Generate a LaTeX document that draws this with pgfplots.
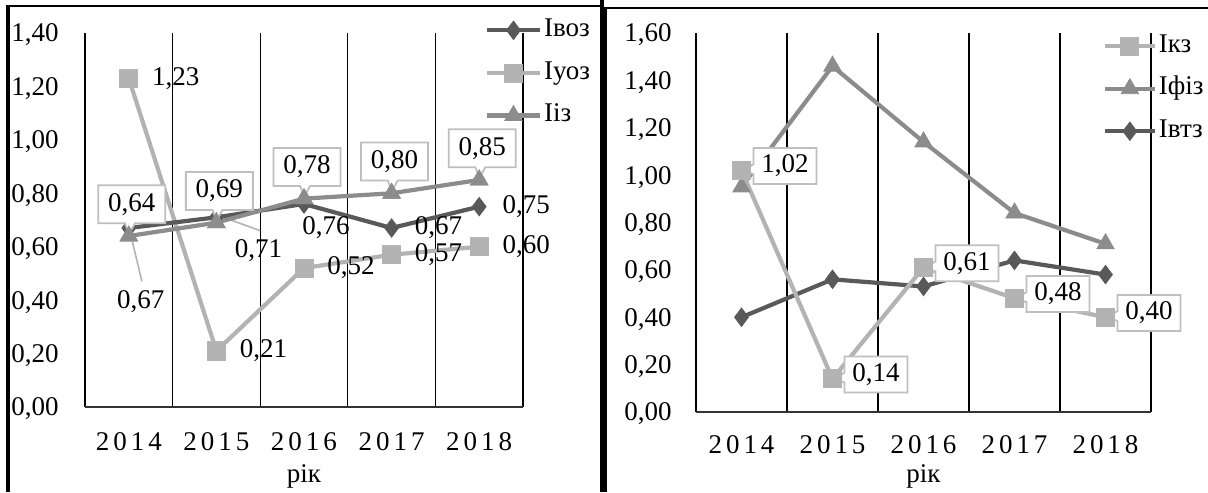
\documentclass[border=0pt]{standalone}
\usepackage{fontspec}
\setmainfont{Liberation Serif}
\usepackage{pgfplots}
\pgfplotsset{compat=1.18}
\usepackage{pgfplotstable}
\usetikzlibrary{shapes.callouts}

\definecolor{cdark}{HTML}{595959}
\definecolor{cmed}{HTML}{8C8C8C}
\definecolor{clight}{HTML}{B3B3B3}
\definecolor{cbox}{HTML}{BFBFBF}

\newcommand{\fs}{\fontsize{13.5}{16}\selectfont}
\newcommand{\yr}[4]{#1\hspace{2pt}#2\hspace{2pt}#3\hspace{2pt}#4}

\pgfplotsset{
  sdark/.style={color=cdark, line width=2.1pt, mark=diamond*, mark size=4.6pt, mark options={solid, fill=cdark, line width=0.4pt}},
  slight/.style={color=clight, line width=2.1pt, mark=square*, mark size=4.5pt, mark options={solid, fill=clight, line width=0.4pt}},
  smed/.style={color=cmed, line width=2.1pt, mark=triangle*, mark size=5pt, mark options={solid, fill=cmed, line width=0.4pt}},
  base/.style={
    scale only axis,
    anchor=south west,
    clip=false,
    xmin=-0.5, xmax=4.5,
    xtick={0,1,2,3,4},
    xticklabels={\yr2014,\yr2015,\yr2016,\yr2017,\yr2018},
    axis x line*=bottom,
    axis y line*=left,
    x axis line style={-, draw=black!80, line width=0.7pt},
    y axis line style={draw=none},
    major tick length=0pt,
    minor tick length=0pt,
    minor xtick={-0.5,0.5,1.5,2.5,3.5,4.5},
    xminorgrids=true,
    minor x grid style={black, line width=0.55pt},
    tick label style={font=\fs},
    yticklabel style={anchor=base east, inner sep=0pt, xshift=-13pt, yshift=-4.45pt},
    xticklabel style={anchor=base, inner sep=0pt, yshift=-21.5pt},
    /pgf/number format/use comma,
    /pgf/number format/fixed,
    /pgf/number format/fixed zerofill,
    /pgf/number format/precision=2,
    /pgf/number format/assume math mode=true,
    xlabel={рік},
    xlabel style={at={(axis description cs:0.5,0)}, anchor=base, inner sep=0pt, yshift=-37.5pt, font=\fs},
    legend style={draw=none, fill=none, inner sep=0pt, outer sep=0pt, font=\fs, anchor=north west,
      row sep=9pt, column sep=1pt, cells={anchor=west},
      nodes={inner sep=0pt, text height=9.3pt, text depth=3pt}},
    legend image code/.code={
      \draw[#1] (0pt,0pt) -- (26.5pt,0pt);
      \draw[#1] plot coordinates {(13.25pt,0pt)};
    },
  },
}

\pgfplotstableread{
x y dx dy
0 0.67 6 -37
1 0.71 21 -16.5
2 0.76 11 -12
3 0.67 23.5 0
4 0.75 23.5 0
}\tvoz

\pgfplotstableread{
x y
0 1.23
1 0.21
2 0.52
3 0.57
4 0.60
}\tuoz

\pgfplotstableread{
x y
0 0.64
1 0.69
2 0.78
3 0.80
4 0.85
}\tiz

\pgfplotstableread{
x y
0 1.02
1 0.14
2 0.61
3 0.48
4 0.40
}\tkz

\pgfplotstableread{
x y
0 0.95
1 1.46
2 1.14
3 0.84
4 0.71
}\tfiz

\pgfplotstableread{
x y
0 0.40
1 0.56
2 0.53
3 0.64
4 0.58
}\tvtz

\begin{document}
\begin{tikzpicture}[font=\fs]
\path[use as bounding box] (0pt,0pt) rectangle (604pt,246pt);

% panel borders
\draw[line width=2pt] (3.85pt,0pt) -- (3.85pt,243pt);
\draw[line width=1.2pt] (3pt,243pt) -- (301pt,243pt);
\draw[line width=2pt] (301pt,0pt) -- (301pt,246pt);
\draw[line width=1.5pt] (302.75pt,0pt) -- (302.75pt,242pt);
\draw[line width=1.3pt] (302pt,242pt) -- (604pt,242pt);

% ---------------- left chart ----------------
\begin{axis}[base,
  at={(42.5pt,42.5pt)}, width=219pt, height=187pt,
  ymin=0, ymax=1.4,
  ytick={0,0.2,0.4,0.6,0.8,1.0,1.2,1.4},
  legend style={at={(0.913,1.04)}},
]
\addlegendimage{sdark}\addlegendentry{Івоз}
\addlegendimage{slight}\addlegendentry{Іуоз}
\addlegendimage{smed}\addlegendentry{Ііз}

\draw[clight, line width=0.8pt] (axis cs:0.04,0.62) -- (axis cs:0.15,0.47);
\draw[clight, line width=0.8pt] (axis cs:1.04,0.715) -- (axis cs:1.5,0.66);

\addplot[slight, forget plot, nodes near coords,
  every node near coord/.append style={anchor=center, xshift=23.5pt, text=black, font=\fs}]
  table[x=x,y=y] {\tuoz};

\addplot[sdark, forget plot, nodes near coords,
  visualization depends on={\thisrow{dx}\as\dx},
  visualization depends on={\thisrow{dy}\as\dy},
  every node near coord/.append style={anchor=center, xshift=\dx pt, yshift=\dy pt, text=black, font=\fs}]
  table[x=x,y=y] {\tvoz};

\addplot[smed, forget plot, nodes near coords,
  every node near coord/.append style={text=black, font=\fs,
    rectangle callout, draw=cbox, fill=white, line width=0.9pt,
    callout relative pointer={(-0.5pt,-5.3pt)}, callout pointer width=5pt,
    minimum width=33.5pt, minimum height=19pt, inner sep=0pt, anchor=pointer}]
  table[x=x,y=y] {\tiz};
\addplot[smed, only marks, forget plot] table[x=x,y=y] {\tiz};
\end{axis}

% ---------------- right chart ----------------
\begin{axis}[base,
  at={(348pt,40pt)}, width=227.5pt, height=189.5pt,
  ymin=0, ymax=1.6,
  ytick={0,0.2,0.4,0.6,0.8,1.0,1.2,1.4,1.6},
  yticklabel style={xshift=1pt},
  xticklabel style={yshift=1pt},
  xlabel style={yshift=2.5pt},
  legend style={at={(0.894,0.998)}},
  legend image code/.code={
    \draw[#1] (0pt,0pt) -- (25pt,0pt);
    \draw[#1] plot coordinates {(12.5pt,0pt)};
  },
]
\addlegendimage{slight}\addlegendentry{Ікз}
\addlegendimage{smed}\addlegendentry{Іфіз}
\addlegendimage{sdark}\addlegendentry{Івтз}

\addplot[smed, forget plot] table[x=x,y=y] {\tfiz};
\addplot[sdark, forget plot] table[x=x,y=y] {\tvtz};
\addplot[slight, forget plot, nodes near coords,
  every node near coord/.append style={text=black, font=\fs,
    rectangle callout, draw=cbox, fill=white, line width=0.9pt,
    callout relative pointer={(-5pt,-0.5pt)}, callout pointer width=5pt,
    minimum width=31.5pt, minimum height=18pt, inner sep=0pt, anchor=pointer}]
  table[x=x,y=y] {\tkz};
\addplot[slight, only marks, forget plot] table[x=x,y=y] {\tkz};
\end{axis}
\end{tikzpicture}
\end{document}
